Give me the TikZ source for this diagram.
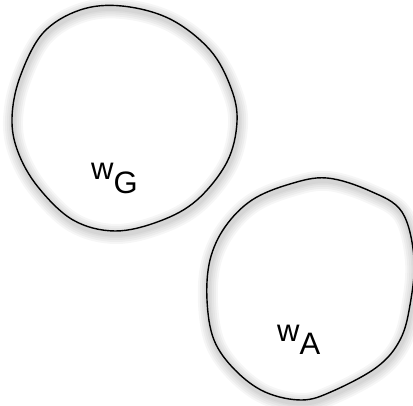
\documentclass[tikz,border=0pt]{standalone}
\usepackage{fontspec}
\setmainfont{Liberation Sans}
\tikzset{
  blobline/.style={draw=black, line width=1.4pt},
  shadowline/.style={draw=black, opacity=0.035, line cap=round, line join=round},
  lbl/.style={inner sep=0pt, anchor=base west, font=\fontsize{31}{36}\selectfont}
}
\begin{document}
\begin{tikzpicture}[x=1pt,y=-1pt]
\useasboundingbox (0,0) rectangle (413,406);
\clip (0,0) rectangle (413,406);
\path[save path=\blobApath] plot[smooth cycle, tension=0.6] coordinates {
  (12,118) (20,77) (43,33) (80,10) (122,6) (170,19) (210,50) (231,88) (237,122)
  (227,162) (197,200) (160,221) (115,231) (73,220) (38,187) (18,152)};
\path[save path=\blobBpath] plot[smooth cycle, tension=0.6] coordinates {
  (207,300) (214,340) (235,370) (265,392) (302,400) (333,391) (377,367) (400,340)
  (410,305) (414,258) (402,212) (370,191) (327,178) (290,184) (252,200) (225,227) (210,260)};
\begin{scope}[transform canvas={xshift=1pt, yshift=-3pt}]
  \foreach \w in {20,16,12,8,5} {
    \path[shadowline, line width=\w pt, use path=\blobApath];
    \path[shadowline, line width=\w pt, use path=\blobBpath];
  }
\end{scope}
\path[blobline, use path=\blobApath];
\path[blobline, use path=\blobBpath];
\node[lbl] (wg) at (91,180) {w$_{\textrm{G}}$};
\node[lbl] (wa) at (277,342) {w$_{\textrm{A}}$};
\end{tikzpicture}
\end{document}
